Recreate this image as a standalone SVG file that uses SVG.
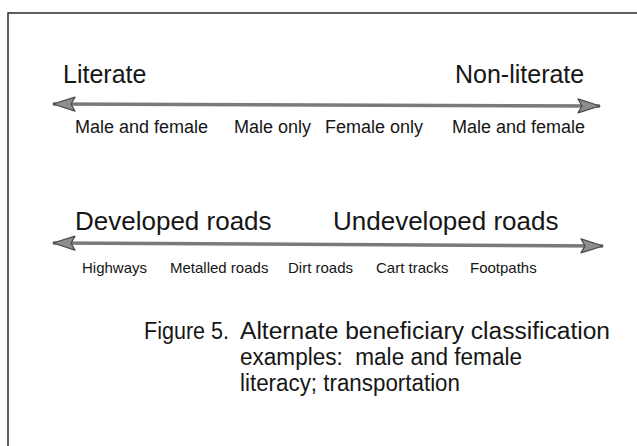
<svg xmlns="http://www.w3.org/2000/svg" width="637" height="446" viewBox="0 0 637 446">
<style>
  text { font-family: "Liberation Sans", Arial, sans-serif; fill: #161616; }
  .title { font-size: 25px; }
  .title2 { font-size: 26px; }
  .lab { font-size: 18px; }
  .lab2 { font-size: 15px; }
  .cap { font-size: 23.5px; }
  .axis { stroke: #7a7a7a; stroke-width: 3.5; fill: none; }
  .frame { stroke: #2a2a2a; stroke-width: 1.5; fill: none; }
</style>
<defs>
  <marker id="head" viewBox="0 0 24 16" refX="23" refY="8" markerWidth="24" markerHeight="16" markerUnits="userSpaceOnUse" orient="auto-start-reverse">
    <path d="M1,1 L23,8 L1,15 L5,8 z" fill="#8e8e8e" stroke="#4a4a4a" stroke-width="1.2" stroke-linejoin="round"/>
  </marker>
</defs>
<rect width="637" height="446" fill="#ffffff"/>
<path class="frame" d="M637,13 L8,13 L8,446"/>

<g id="connectors">
  <path class="axis" d="M53,104 L600,106" marker-start="url(#head)" marker-end="url(#head)"/>
  <path class="axis" d="M53,243 L603,246" marker-start="url(#head)" marker-end="url(#head)"/>
</g>

<g id="literacy-scale">
  <text class="title" x="63" y="83">Literate</text>
  <text class="title" x="455" y="83">Non-literate</text>
  <text class="lab" x="75" y="133">Male and female</text>
  <text class="lab" x="234" y="133">Male only</text>
  <text class="lab" x="325" y="133">Female only</text>
  <text class="lab" x="452" y="133">Male and female</text>
</g>

<g id="roads-scale">
  <text class="title2" x="75" y="230">Developed roads</text>
  <text class="title2" x="333" y="230">Undeveloped roads</text>
  <text class="lab2" x="82" y="273">Highways</text>
  <text class="lab2" x="170" y="273">Metalled roads</text>
  <text class="lab2" x="288" y="273">Dirt roads</text>
  <text class="lab2" x="376" y="273">Cart tracks</text>
  <text class="lab2" x="470" y="273">Footpaths</text>
</g>

<g id="caption">
  <text class="cap" x="144" y="339" textLength="85" lengthAdjust="spacingAndGlyphs">Figure 5.</text>
  <text class="cap" x="240" y="339" textLength="370" lengthAdjust="spacingAndGlyphs">Alternate beneficiary classification</text>
  <text class="cap" x="240" y="365" xml:space="preserve" textLength="282" lengthAdjust="spacingAndGlyphs">examples:  male and female</text>
  <text class="cap" x="240" y="391" textLength="220" lengthAdjust="spacingAndGlyphs">literacy; transportation</text>
</g>
</svg>
